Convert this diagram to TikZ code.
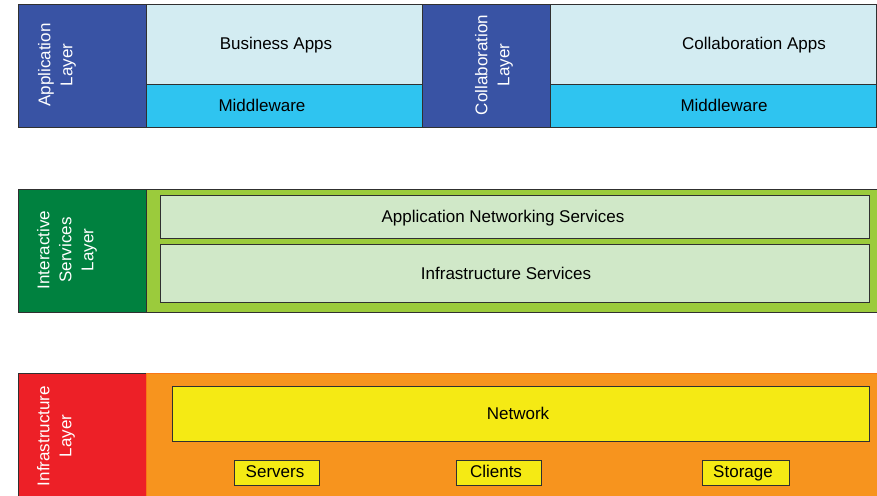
\documentclass[tikz,border=0pt]{standalone}
\usepackage{fontspec}
\setmainfont{Liberation Sans}
\definecolor{layerblue}{HTML}{3953A4}
\definecolor{paleblue}{HTML}{D3ECF2}
\definecolor{midcyan}{HTML}{2FC4F0}
\definecolor{layergreen}{HTML}{00813F}
\definecolor{limegreen}{HTML}{9BCB3C}
\definecolor{palegreen}{HTML}{D0E8C8}
\definecolor{layerred}{HTML}{ED2027}
\definecolor{infraorange}{HTML}{F7941E}
\definecolor{netyellow}{HTML}{F5EA14}
\definecolor{edgegray}{HTML}{303030}
\tikzset{
  panel/.style={draw=edgegray, line width=1pt, anchor=north west, inner sep=0pt},
  layertag/.style={panel, fill=#1},
  % labels are placed by the middle of their capitals
  lbl/.style={inner sep=0pt, text=black, text height=12.2pt, text depth=0pt,
    font=\fontsize{17}{21}\selectfont},
  layertext/.style={rotate=90, align=center, text=white, inner sep=0pt,
    font=\fontsize{17}{22}\selectfont},
}
\begin{document}
\begin{tikzpicture}[x=1pt,y=-1pt]
\useasboundingbox (0,0) rectangle (877,495);
\clip (0,0) rectangle (877,495);

% ---- application layer ----
\node[layertag=layerblue, minimum width=128, minimum height=123] (applayer) at (18,4) {};
\node[layertext] (applayertxt) at (57,65) {Application\\Layer};
\node[panel, fill=paleblue, minimum width=276, minimum height=80] (bizapps) at (146,4) {};
\node[lbl] (bizappstxt) at (276,43.5) {Business Apps};
\node[panel, fill=midcyan, minimum width=276, minimum height=43] (midware1) at (146,84) {};
\node[lbl] (midware1txt) at (262,105.5) {Middleware};
\node[layertag=layerblue, minimum width=128, minimum height=123] (collablayer) at (422,4) {};
\node[layertext] (collablayertxt) at (494,65) {Collaboration\\Layer};
\node[panel, fill=paleblue, minimum width=326, minimum height=80] (collabapps) at (550,4) {};
\node[lbl] (collabappstxt) at (754,43.5) {Collaboration Apps};
\node[panel, fill=midcyan, minimum width=326, minimum height=43] (midware2) at (550,84) {};
\node[lbl] (midware2txt) at (724,105.5) {Middleware};

% ---- interactive services layer ----
\node[layertag=layergreen, minimum width=128, minimum height=123] (svclayer) at (18,189) {};
\node[layertext] (svclayertxt) at (67,250) {Interactive\\Services\\Layer};
\node[panel, fill=limegreen, minimum width=735, minimum height=123] (svcbg) at (146,189) {};
\node[panel, fill=palegreen, minimum width=709, minimum height=43] (appnet) at (160,195) {};
\node[lbl] (appnettxt) at (503,216) {Application Networking Services};
\node[panel, fill=palegreen, minimum width=709, minimum height=58] (infrasvc) at (160,244) {};
\node[lbl] (infrasvctxt) at (506,273) {Infrastructure Services};

% ---- infrastructure layer ----
\node[layertag=layerred, minimum width=128, minimum height=130] (infralayer) at (18,373) {};
\node[layertext] (infralayertxt) at (56,436) {Infrastructure\\Layer};
\node[panel, fill=infraorange, draw=infraorange!80!red, minimum width=735, minimum height=130] (infrabg) at (146,373) {};
\node[panel, fill=netyellow, minimum width=697, minimum height=55] (network) at (172,386) {};
\node[lbl] (networktxt) at (518,413) {Network};
\node[panel, fill=netyellow, minimum width=85, minimum height=25] (servers) at (234,460) {};
\node[lbl] (serverstxt) at (275,471.5) {Servers};
\node[panel, fill=netyellow, minimum width=85, minimum height=25] (clients) at (456,460) {};
\node[lbl] (clientstxt) at (496,471.5) {Clients};
\node[panel, fill=netyellow, minimum width=87, minimum height=25] (storage) at (702,460) {};
\node[lbl] (storagetxt) at (743,471.5) {Storage};
\end{tikzpicture}
\end{document}
